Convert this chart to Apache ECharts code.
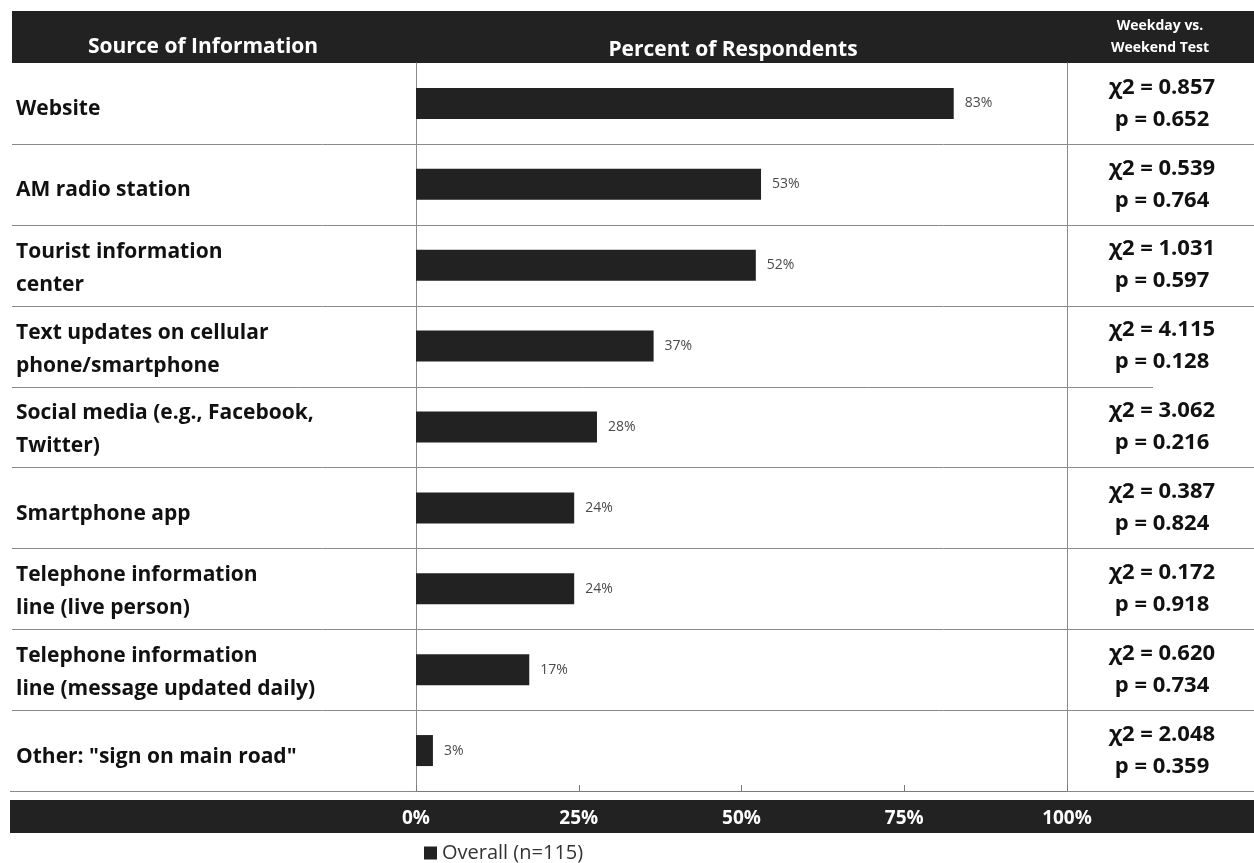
<!DOCTYPE html>
<html>
<head>
<meta charset="utf-8">
<script src="https://cdn.jsdelivr.net/npm/echarts@6/dist/echarts.min.js"></script>
<style>html,body{margin:0;padding:0;background:#fff;}#c{width:1254px;height:863px;}</style>
</head>
<body>
<div id="c"></div>
<script>
const categories = [
  'Website',
  'AM radio station',
  'Tourist information\ncenter',
  'Text updates on cellular\nphone/smartphone',
  'Social media (e.g., Facebook,\nTwitter)',
  'Smartphone app',
  'Telephone information\nline (live person)',
  'Telephone information\nline (message updated daily)',
  'Other: "sign on main road"'
];
const overall = [82.6, 53.0, 52.2, 36.5, 27.8, 24.3, 24.3, 17.4, 2.6];
const chiSquare = ['0.857', '0.539', '1.031', '4.115', '3.062', '0.387', '0.172', '0.620', '2.048'];
const pValues = ['0.652', '0.764', '0.597', '0.128', '0.216', '0.824', '0.918', '0.734', '0.359'];
const xTicks = [0, 25, 50, 75, 100];
const seriesName = 'Overall (n=115)';

const FONT = '"Open Sans", sans-serif';
const chart = echarts.init(document.getElementById('c'), null, {renderer: 'canvas'});

const option = {
  backgroundColor: '#ffffff',
  animation: false,
  textStyle: {fontFamily: FONT},
  grid: {left: 416, right: 187, top: 63, bottom: 72, containLabel: false},
  legend: {
    data: [seriesName],
    left: 419, top: 838,
    icon: 'rect', itemWidth: 13, itemHeight: 13, itemGap: 4,
    textStyle: {fontSize: 20, color: '#333', fontFamily: FONT}
  },
  xAxis: {
    type: 'value', min: xTicks[0], max: xTicks[xTicks.length - 1], interval: 25,
    z: 10,
    axisLine: {show: true, lineStyle: {color: '#7a7a7a', width: 1}},
    axisTick: {show: true, inside: true, length: 6, lineStyle: {color: '#7a7a7a'}},
    splitLine: {show: false},
    axisLabel: {formatter: '{value}%', color: '#ffffff', fontSize: 19, fontWeight: 'bold', margin: 18, fontFamily: FONT}
  },
  yAxis: [{
    type: 'category', data: categories, inverse: true,
    axisLine: {show: true, lineStyle: {color: '#8a8a8a'}},
    axisTick: {show: false},
    axisLabel: {show: false}
  }, {
    type: 'category', data: categories, inverse: true, position: 'right',
    axisLine: {show: true, lineStyle: {color: '#8a8a8a'}},
    axisTick: {show: false},
    axisLabel: {align: 'center', margin: 95, fontSize: 22, fontWeight: 'bold', lineHeight: 32,
      color: '#111111', fontFamily: FONT,
      formatter: function (v, i) { return 'χ2 = ' + chiSquare[i] + '\np = ' + pValues[i]; }}
  }],
  graphic: [
    {type: 'rect', z: -1, shape: {x: 12, y: 11, width: 1242, height: 52}, style: {fill: '#222222'}},
    {type: 'text', z: 10, x: 203, y: 47, style: {text: 'Source of Information', fill: '#fff', font: 'bold 21px ' + FONT, textAlign: 'center', textVerticalAlign: 'middle'}},
    {type: 'text', z: 10, x: 733, y: 50, style: {text: 'Percent of Respondents', fill: '#fff', font: 'bold 21px ' + FONT, textAlign: 'center', textVerticalAlign: 'middle'}},
    {type: 'text', z: 10, x: 1160, y: 26, style: {text: 'Weekday vs.', fill: '#fff', font: 'bold 14px ' + FONT, textAlign: 'center', textVerticalAlign: 'middle'}},
    {type: 'text', z: 10, x: 1160, y: 48, style: {text: 'Weekend Test', fill: '#fff', font: 'bold 14px ' + FONT, textAlign: 'center', textVerticalAlign: 'middle'}},
    {type: 'rect', z: -1, shape: {x: 10, y: 800, width: 1244, height: 33}, style: {fill: '#222222'}}
  ],
  series: [{
    name: seriesName, type: 'bar', data: overall, barWidth: 31,
    itemStyle: {color: '#222222'},
    label: {show: true, position: 'right', distance: 11, fontSize: 14, color: '#4a4a4a',
      fontFamily: FONT, formatter: function (p) { return Math.round(p.value) + '%'; }}
  }, {
    type: 'custom', silent: true, clip: false, z: 1,
    data: categories.map(function (c, i) { return [0, i]; }),
    renderItem: function (params, api) {
      const i = api.value(1);
      const pt = api.coord([0, i]);
      const band = api.size([0, 1])[1];
      const y = Math.round(pt[1] + band / 2) + 0.5;
      const x2 = (i === 3) ? 1153 : 1254;
      const twoLine = categories[i].indexOf('\n') >= 0;
      return {type: 'group', children: [
        {type: 'line', shape: {x1: i === categories.length - 1 ? 10 : 12, y1: y, x2: x2, y2: y},
          style: {stroke: '#8a8a8a', lineWidth: 1}},
        {type: 'text', x: 16, y: pt[1] + (twoLine ? 3 : 6),
          style: {text: categories[i], fontSize: 21, fontWeight: 'bold', fontFamily: FONT,
            fill: '#111111', align: 'left', verticalAlign: 'middle', lineHeight: 33}}
      ]};
    }
  }]
};
chart.setOption(option);
</script>
</body>
</html>
